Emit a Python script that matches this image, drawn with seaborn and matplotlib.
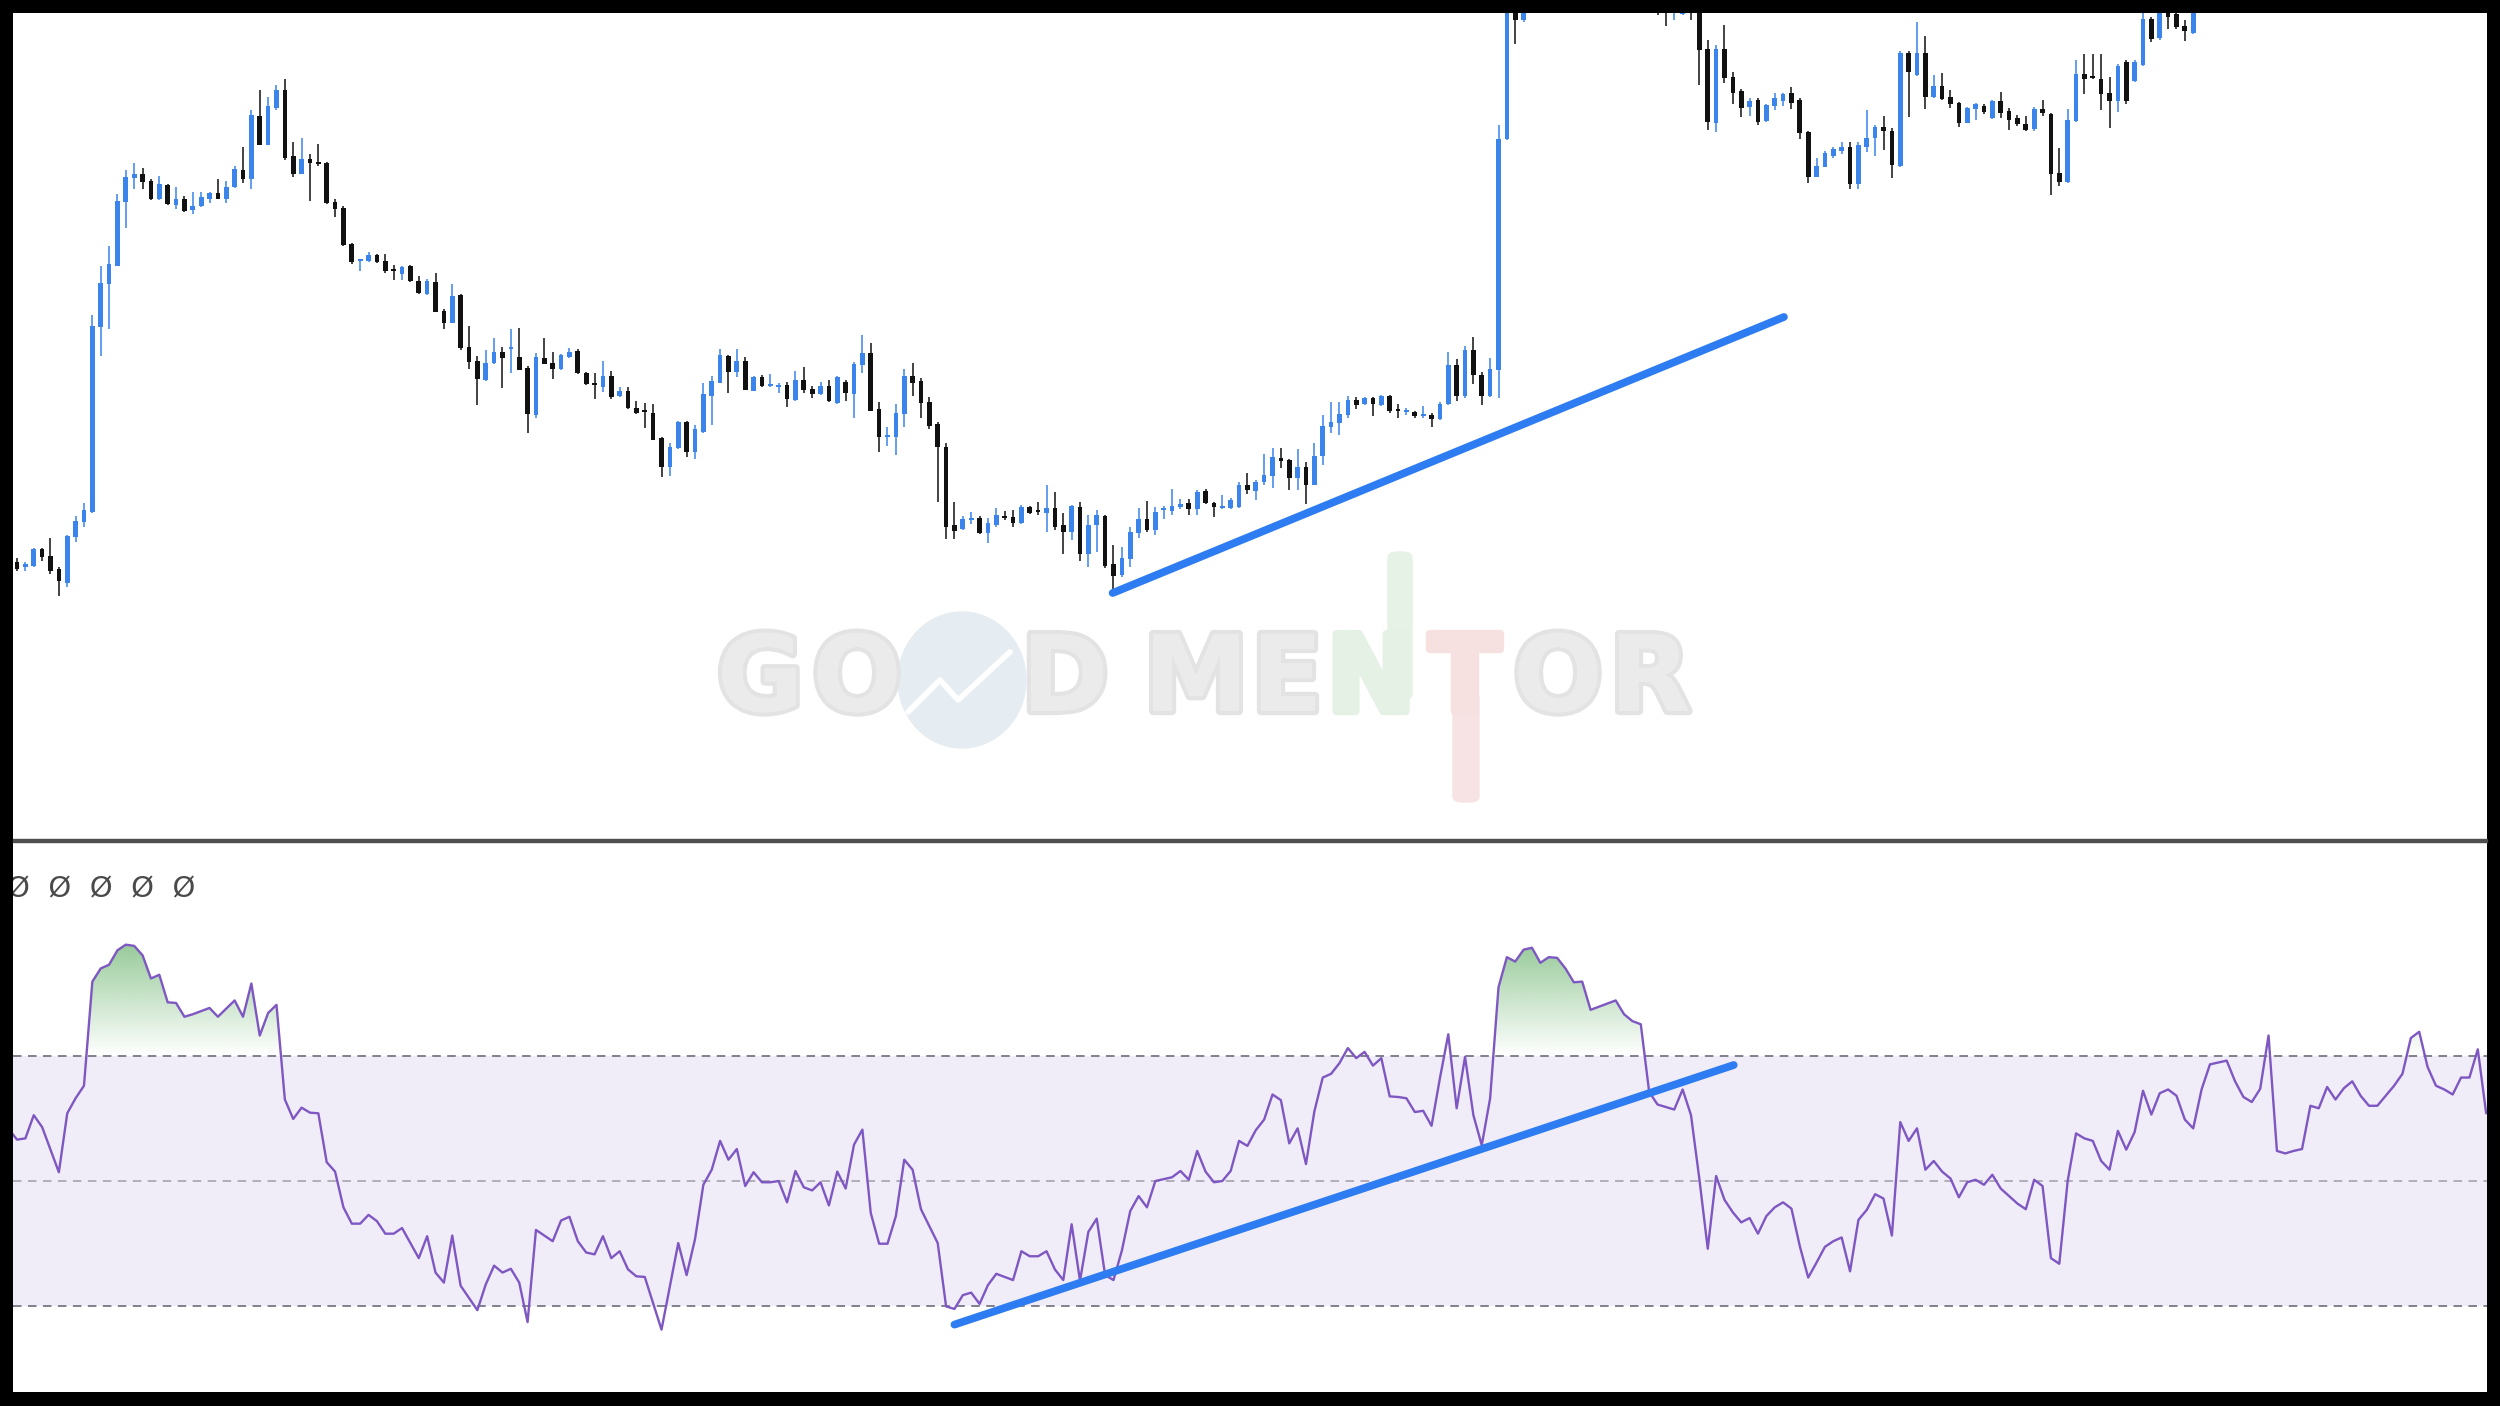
import numpy as np
import matplotlib
matplotlib.use("Agg")
import matplotlib.pyplot as plt
import matplotlib.path as mpath
import matplotlib.patheffects as pe
from matplotlib.patches import Rectangle, Ellipse, FancyBboxPatch
from matplotlib.lines import Line2D
from matplotlib.colors import to_rgb
import seaborn as sns

sns.set_theme(style="white")
plt.rcParams['font.family'] = ['DejaVu Sans']

# ---- price candles (chart units), one per bar, bar 0 at the left edge ----
opens = [278, 273, 274, 291, 284, 271, 257, 303, 318, 328, 513, 556, 574, 638, 662, 666, 659, 641, 655, 635,
         641, 630, 634, 641, 647, 641, 653, 670, 661, 724, 695, 732, 750, 684, 666, 681, 678, 677, 638, 632,
         596, 579, 579, 585, 579, 571, 566, 574, 559, 546,
         558, 529, 517, 545, 493, 479, 460, 477, 488, 491, 483, 472, 425, 482, 477, 471, 483, 489, 467, 457,
         453, 464, 444, 449, 432, 429, 427, 402, 373, 392, 418, 388, 408, 444, 457, 484, 468, 479, 449, 463,
         454, 453, 455, 440, 460, 451, 446, 454, 437,
         458, 446, 475, 487, 431, 403, 403, 426, 464, 459, 438, 416, 393, 315, 311, 320, 322, 307, 315, 324,
         323, 317, 333, 329, 327, 332, 315, 308, 333, 286, 315, 324, 276, 265, 281, 307, 321, 310, 330, 329,
         333, 337, 331, 349, 337, 332, 332, 333, 355,
         349, 358, 364, 382, 380, 362, 373, 355, 384, 413, 417, 425, 440, 436, 442, 435, 444, 430, 428, 428,
         424, 425, 421, 436, 475, 444, 490, 465, 444, 470, 701, 850, 820,
         845, 860, 872, 885, 878, 870, 880, 895, 886, 876, 882, 890, 880, 864, 856, 850, 846, 838, 826, 850,
         840, 791, 717, 791, 763, 749, 733, 740, 719, 734, 739, 747, 740, 708, 663, 673, 684, 689, 693, 656,
         693, 702, 713, 709, 674, 787, 765, 787, 743, 754, 743, 737, 717, 731,
         734, 722, 739, 729, 722, 716, 711, 731, 726, 667, 658, 719, 766, 763, 761, 747, 739, 778, 759, 775,
         821, 802, 835, 826, 814, 807]
highs = [282, 278, 292, 292, 302, 273, 305, 324, 337, 525, 574, 594, 646, 670, 677, 672, 661, 664, 656, 653,
         644, 648, 648, 648, 661, 659, 674, 693, 730, 750, 743, 755, 761, 698, 702, 686, 696, 678, 641, 634,
         597, 581, 588, 586, 586, 575, 574, 575, 564, 561,
         567, 531, 556, 546, 514, 484, 490, 502, 493, 511, 512, 474, 487, 502, 488, 486, 492, 491, 468, 467,
         479, 469, 453, 453, 439, 437, 436, 403, 397, 419, 419, 415, 457, 464, 491, 485, 491, 483, 464, 465,
         466, 457, 458, 469, 473, 454, 458, 460, 464,
         460, 478, 505, 497, 438, 413, 436, 471, 477, 462, 443, 418, 397, 338, 324, 328, 324, 322, 332, 329,
         330, 335, 334, 338, 355, 348, 327, 335, 338, 325, 330, 325, 295, 293, 313, 332, 339, 333, 334, 351,
         341, 341, 350, 351, 338, 345, 342, 358, 367,
         360, 386, 392, 392, 381, 391, 378, 397, 425, 438, 438, 444, 443, 443, 443, 445, 445, 436, 432, 429,
         434, 427, 438, 488, 481, 494, 503, 468, 482, 715, 880, 860, 855,
         870, 880, 890, 895, 888, 884, 900, 905, 894, 886, 896, 898, 886, 872, 866, 860, 856, 848, 835, 860,
         850, 800, 795, 815, 768, 751, 742, 742, 736, 747, 747, 753, 742, 709, 682, 689, 693, 698, 698, 698,
         730, 715, 724, 712, 789, 789, 818, 804, 765, 767, 750, 738, 733, 737,
         736, 740, 748, 732, 725, 724, 733, 740, 727, 692, 731, 780, 786, 786, 786, 763, 776, 780, 780, 830,
         823, 840, 845, 835, 820, 845]
lows = [269, 269, 273, 279, 266, 244, 253, 298, 313, 327, 484, 511, 574, 612, 651, 651, 640, 640, 635, 631,
        628, 626, 633, 637, 641, 637, 652, 657, 651, 695, 695, 730, 680, 663, 666, 639, 674, 636, 623, 594,
        576, 569, 578, 577, 567, 560, 560, 558, 546, 545,
        528, 511, 517, 490, 471, 435, 459, 476, 452, 467, 470, 407, 422, 476, 461, 470, 482, 466, 455, 441,
        448, 441, 443, 431, 426, 412, 400, 363, 364, 391, 383, 381, 407, 415, 457, 447, 463, 450, 449, 453,
        453, 447, 433, 439, 447, 442, 445, 438, 436,
        439, 422, 467, 429, 388, 394, 385, 413, 444, 422, 411, 338, 301, 301, 310, 316, 306, 297, 313, 320,
        313, 316, 326, 325, 308, 310, 286, 300, 279, 273, 288, 272, 245, 263, 273, 302, 308, 305, 321, 325,
        331, 325, 325, 336, 323, 331, 331, 332, 346,
        340, 355, 352, 372, 350, 350, 336, 355, 375, 407, 405, 422, 431, 435, 424, 434, 427, 422, 425, 422,
        422, 413, 420, 435, 439, 442, 456, 435, 443, 442, 700, 796, 818,
        838, 850, 865, 870, 866, 860, 875, 880, 872, 864, 878, 876, 860, 850, 842, 825, 814, 820, 825, 820,
        755, 710, 708, 757, 736, 723, 724, 715, 718, 730, 734, 731, 701, 657, 663, 673, 682, 686, 651, 651,
        688, 684, 690, 662, 673, 723, 764, 731, 742, 740, 732, 713, 717, 720,
        726, 721, 722, 710, 714, 709, 709, 724, 645, 654, 657, 718, 746, 761, 730, 712, 728, 736, 758, 774,
        798, 800, 811, 811, 799, 806]
closes = [271, 276, 291, 283, 269, 259, 304, 319, 330, 514, 557, 576, 639, 663, 666, 658, 641, 656, 636, 641,
          629, 634, 643, 647, 641, 653, 671, 661, 725, 695, 734, 750, 682, 666, 681, 677, 676, 637, 631, 595,
          578, 581, 585, 578, 569, 569, 573, 559, 547, 559,
          528, 517, 544, 492, 478, 461, 477, 488, 482, 492, 470, 426, 483, 476, 471, 485, 488, 467, 456, 455,
          464, 443, 449, 432, 427, 428, 400, 373, 393, 418, 388, 411, 446, 459, 485, 468, 479, 450, 463, 454,
          455, 455, 441, 460, 450, 446, 454, 439, 463,
          447, 476, 487, 429, 403, 405, 427, 464, 457, 437, 414, 393, 313, 309, 321, 322, 307, 317, 325, 322,
          317, 333, 327, 328, 332, 313, 308, 334, 286, 315, 325, 274, 264, 282, 308, 321, 310, 328, 332, 334,
          336, 331, 348, 337, 333, 333, 340, 355, 350,
          358, 365, 383, 379, 362, 373, 355, 384, 414, 418, 426, 440, 435, 442, 436, 444, 429, 429, 430, 424,
          426, 421, 436, 475, 444, 490, 465, 444, 471, 701, 870, 820, 845,
          860, 872, 885, 878, 870, 880, 895, 886, 876, 882, 890, 880, 864, 856, 850, 846, 838, 844, 829, 845,
          790, 718, 791, 762, 747, 732, 739, 718, 735, 742, 746, 737, 707, 663, 674, 687, 691, 693, 656, 695,
          702, 713, 709, 675, 787, 768, 787, 743, 754, 741, 736, 717, 732, 736,
          728, 739, 727, 720, 716, 710, 731, 727, 666, 658, 720, 766, 761, 762, 746, 739, 774, 739, 778, 821,
          801, 828, 823, 813, 809, 835]

# ---- RSI (bar, value) ----
rsi_bar = [-1, 0, 1, 2, 3, 5, 6, 7, 8, 9, 10, 11, 12, 13, 14, 15, 16, 17, 18, 19, 20, 21, 23, 24, 26, 27, 28, 29,
           30, 31, 32, 33, 34, 35, 36, 37, 38, 39, 40, 41, 42, 43, 44, 45, 46, 48, 49, 50, 51, 52, 53, 55, 56, 57,
           58, 59, 60, 61, 62, 64, 65, 66, 67, 68, 69, 70, 71, 72, 73, 74, 75, 77, 79, 80, 81, 82, 83, 84, 85, 86,
           87, 88, 89, 90, 91, 92, 93, 94, 95, 96, 97, 98, 99, 100, 101, 102, 103, 104, 105, 106, 107, 108, 110,
           111, 112, 113, 114, 115, 116, 117, 119, 120, 121, 122, 123, 124, 125, 126, 127, 128, 129, 130, 131,
           132, 133, 134, 135, 136, 138, 139, 140, 141, 142, 143, 144, 145, 146, 147, 148, 149, 150, 151, 152,
           153, 154, 155, 156, 157, 158, 159, 160, 161, 162, 163, 164, 165, 166, 167, 168, 169, 170, 171, 172,
           173, 174, 175, 176, 177, 178, 179, 180, 181, 182, 183, 184, 185, 186, 187, 188, 189, 191, 192, 193,
           194, 195, 196, 198, 199, 200, 201, 202, 203, 204, 205, 206, 207, 208, 209, 210, 211, 212, 213, 214,
           215, 216, 217, 218, 219, 220, 221, 222, 223, 224, 225, 226, 227, 228, 229, 230, 231, 232, 233, 234,
           235, 236, 237, 238, 239, 240, 241, 242, 243, 244, 245, 246, 247, 248, 249, 250, 251, 252, 253, 254,
           255, 256, 257, 258, 259, 260, 261, 262, 263, 264, 265, 266, 267, 268, 269, 270, 271, 272, 273, 274,
           275, 276, 277, 278, 279, 280, 281, 282, 283, 284, 285, 286, 287, 288, 289, 290, 291, 292, 293, 294, 295]
rsi_val = [58.3, 56.6, 56.8, 60.5, 58.6, 51.4, 60.8, 63.2, 65.2, 81.8, 83.9, 84.5, 86.8, 87.7, 87.5, 86.0, 82.3,
           82.9, 78.5, 78.4, 76.2, 76.6, 77.6, 76.2, 78.8, 76.2, 81.5, 73.2, 76.8, 78.1, 63.0, 59.9, 61.7, 60.9,
           60.8, 53.0, 51.5, 45.8, 43.2, 43.2, 44.6, 43.6, 41.6, 41.6, 42.5, 37.7, 41.2, 35.4, 33.8, 41.3, 33.3,
           29.4, 33.5, 36.5, 35.4, 36.0, 33.8, 27.5, 42.2, 40.4, 43.7, 44.3, 40.4, 38.6, 38.3, 41.2, 37.7, 38.8,
           35.9, 34.8, 34.7, 26.3, 40.1, 35.0, 40.7, 49.4, 51.8, 56.4, 53.4, 55.1, 49.2, 51.4, 49.8, 49.8, 50.0,
           46.6, 51.6, 49.0, 48.5, 49.8, 46.1, 51.5, 48.8, 55.8, 58.2, 44.9, 40.0, 40.0, 44.4, 53.4, 51.8, 45.5,
           40.1, 30.0, 29.6, 31.8, 32.2, 30.4, 33.4, 35.2, 34.2, 38.8, 38.0, 38.0, 38.8, 35.9, 34.2, 43.1, 34.1,
           41.9, 44.0, 35.0, 34.2, 38.9, 45.2, 47.6, 45.8, 50.0, 50.6, 51.6, 50.2, 54.8, 51.5, 49.8, 50.0, 51.6,
           56.4, 55.6, 58.1, 59.8, 63.8, 62.9, 56.0, 58.4, 52.7, 61.1, 66.5, 67.1, 68.8, 71.2, 69.6, 70.6, 68.4,
           69.6, 63.5, 63.4, 63.2, 61.0, 61.2, 58.8, 66.4, 73.4, 61.6, 69.8, 60.5, 55.7, 63.2, 80.9, 85.7, 85.0,
           86.9, 87.2, 84.8, 85.7, 85.6, 83.9, 81.7, 81.8, 77.3, 77.8, 78.8, 76.6, 75.5, 75.0, 64.2, 62.2, 61.4,
           64.6, 60.5, 50.3, 39.2, 50.8, 47.0, 45.0, 43.4, 44.1, 41.6, 44.4, 45.8, 46.6, 45.6, 39.6, 34.6, 37.0,
           39.5, 40.4, 41.0, 35.6, 43.8, 45.4, 47.9, 47.2, 41.3, 59.4, 56.4, 58.4, 51.8, 53.2, 51.5, 50.4, 47.4,
           49.8, 50.2, 49.4, 51.0, 48.8, 47.6, 46.4, 45.5, 50.2, 49.2, 37.7, 36.8, 50.0, 57.6, 56.8, 56.4, 53.2,
           51.8, 58.0, 55.0, 57.8, 64.4, 60.6, 64.0, 64.6, 63.6, 59.8, 58.4, 64.6, 68.6, 68.9, 69.2, 65.9, 63.4,
           62.6, 64.7, 73.2, 54.8, 54.4, 54.8, 55.1, 62.0, 61.6, 65.0, 63.0, 64.8, 65.9, 63.6, 62.0, 62.0, 63.6,
           65.2, 67.1, 72.8, 73.8, 68.2, 65.2, 64.6, 63.8, 66.5, 66.5, 71.0, 60.8]

# hand-drawn trendlines (bar, value)
price_trend_bar = [130.9, 211.1]
price_trend_val = [247, 523]
rsi_trend_bar = [112.0, 205.1]
rsi_trend_val = [27.1, 68.5]

rsi_levels = [70, 50, 30]
indicator_label = "Ø  Ø  Ø  Ø  Ø"

UP = '#3a84ec'
DOWN = '#111111'
TREND = '#2e7cf2'
RSI_C = '#7e57c2'

W, H = 2500, 1406


def fr(x0, y0, x1, y1):
    return [x0 / W, 1 - y1 / H, (x1 - x0) / W, (y1 - y0) / H]


fig = plt.figure(figsize=(25, 14.06), dpi=100, facecolor='black')
ax = fig.add_axes(fr(13, 13, 2487, 839))
ax2 = fig.add_axes(fr(13, 842, 2487, 1392))
fig.patches.append(Rectangle((13 / W, 1 - 842 / H), 2474 / W, 3 / H,
                             transform=fig.transFigure, color='#4f4f4f', zorder=2))

xlim = (-0.48, 295.1)

# --- candles ---
o = np.array(opens, float)
h = np.array(highs, float)
l = np.array(lows, float)
c = np.array(closes, float)
bars = np.arange(len(o))
cols = [UP if cc >= oo else DOWN for oo, cc in zip(o, c)]
ax.vlines(bars, l, h, colors=cols, linewidth=1.1, zorder=2)
body_lo = np.minimum(o, c)
body_h = np.maximum(np.abs(c - o), 1.6)
ax.bar(bars, body_h, bottom=body_lo, width=0.56, color=cols, linewidth=0, zorder=3)

sns.lineplot(x=price_trend_bar, y=price_trend_val, ax=ax, color=TREND, linewidth=5.6,
             solid_capstyle='round', zorder=5)
ax.set_xlim(*xlim)
ax.set_ylim(1, 827)

# --- RSI panel ---
ax2.axhspan(30, 70, color=RSI_C, alpha=0.1, linewidth=0, zorder=0)
for lv in rsi_levels:
    ax2.axhline(lv, color='#787b86', linewidth=1.4, linestyle=(0, (4.4, 3.3)),
                alpha=0.55 if lv == 50 else 0.95, zorder=1)

rx = np.array(rsi_bar, float)
ry = np.array(rsi_val, float)
poly = ax2.fill_between(rx, ry, 70, where=ry > 70, interpolate=True,
                        facecolor='none', edgecolor='none')
clip = mpath.Path.make_compound_path(*poly.get_paths())
grad = np.zeros((256, 1, 4))
grad[..., :3] = to_rgb('#43a047')
grad[:, 0, 3] = np.linspace(0.0, 0.62, 256)
img = ax2.imshow(grad, extent=[xlim[0], xlim[1], 70, 90], origin='lower',
                 aspect='auto', zorder=1.5, interpolation='bilinear')
img.set_clip_path(clip, ax2.transData)

sns.lineplot(x=rx, y=ry, ax=ax2, color=RSI_C, linewidth=1.7, zorder=3)
sns.lineplot(x=rsi_trend_bar, y=rsi_trend_val, ax=ax2, color=TREND, linewidth=5.6,
             solid_capstyle='round', zorder=5)
ax2.set_xlim(*xlim)
ax2.set_ylim(16.35, 104.07)
ax2.text(-0.0026, 0.9, indicator_label, transform=ax2.transAxes, fontsize=21,
         color='#4a4a4a', va='baseline', ha='left', clip_on=True)

for a in (ax, ax2):
    a.set_facecolor('white')
    a.set_xticks([])
    a.set_yticks([])
    a.set_xlabel('')
    a.set_ylabel('')
    for s in a.spines.values():
        s.set_visible(False)
    if a.get_legend():
        a.get_legend().remove()

# --- watermark ---
fig.patches.append(FancyBboxPatch((1388 / W, 1 - 700 / H), 24 / W, 148 / H,
                                  boxstyle='round,pad=0,rounding_size=0.004',
                                  transform=fig.transFigure, color='#e6f2e6', zorder=0.4))
fig.patches.append(FancyBboxPatch((1453 / W, 1 - 802 / H), 26 / W, 110 / H,
                                  boxstyle='round,pad=0,rounding_size=0.004',
                                  transform=fig.transFigure, color='#f7e3e3', zorder=0.4))
fig.patches.append(Ellipse((962 / W, 1 - 680 / H), 128 / W, 136 / H,
                           transform=fig.transFigure, color='#e5ecf2', zorder=0.5))
fig.lines.append(Line2D(np.array([908, 940, 958, 1010]) / W,
                        1 - np.array([712, 680, 700, 652]) / H,
                        transform=fig.transFigure, color='white', linewidth=4, zorder=0.6))
letters = [('G', 760, '#ebebeb'), ('O', 857, '#ebebeb'), ('D', 1065, '#ebebeb'),
           ('M', 1196, '#ebebeb'), ('E', 1287, '#ebebeb'), ('N', 1371, '#e5f1e5'),
           ('T', 1465, '#f6e0e0'), ('O', 1558, '#ebebeb'), ('R', 1650, '#ebebeb')]
for ch, px, colr in letters:
    fig.text(px / W, 1 - 682 / H, ch, fontsize=76, fontweight='bold', color=colr,
             ha='center', va='center', zorder=0.6,
             path_effects=[pe.withStroke(linewidth=6, foreground='#e3e3e3' if colr == '#ebebeb' else colr),
                           pe.Normal()])

fig.savefig('out.png', dpi=100, facecolor='black')
